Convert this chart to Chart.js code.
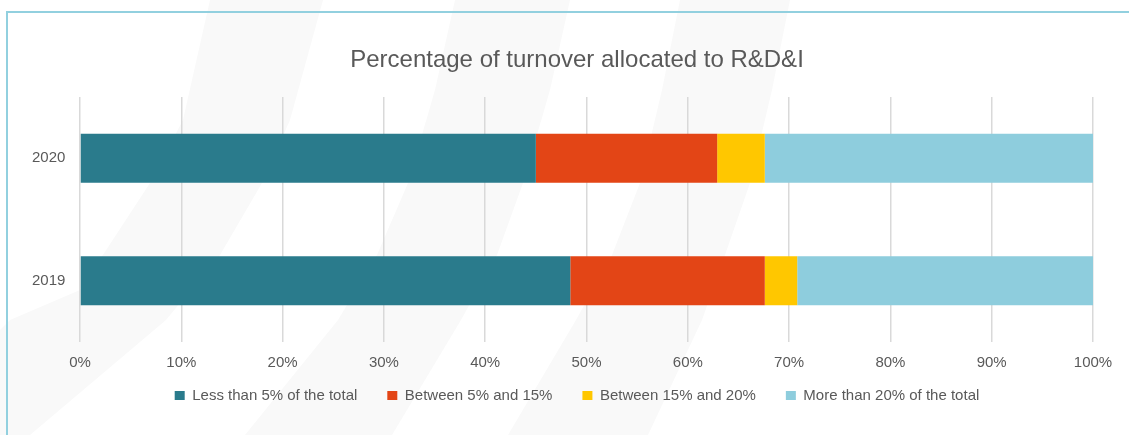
<!DOCTYPE html>
<html>
<head>
<meta charset="utf-8">
<script src="https://cdn.jsdelivr.net/npm/chart.js@4/dist/chart.umd.min.js"></script>
<style>
  html, body { margin: 0; padding: 0; background: #ffffff; }
  #wrap { position: relative; width: 1129px; height: 435px; overflow: hidden; }
  #frame { position: absolute; left: 6px; top: 11px; right: -10px; bottom: -10px;
           border-top: 2px solid #92D0DF; border-left: 2px solid #92D0DF; pointer-events: none; }
  canvas { position: absolute; left: 0; top: 0; }
</style>
</head>
<body>
<div id="wrap">
  <canvas id="c" width="1129" height="435"></canvas>
  <div id="frame"></div>
</div>
<script>
// ---- data ----
const years = ['2020', '2019'];
const lessThan5 = [45.0, 48.4];
const between5and15 = [17.9, 19.2];
const between15and20 = [4.7, 3.2];
const moreThan20 = [32.4, 29.2];
const seriesNames = ['Less than 5% of the total', 'Between 5% and 15%', 'Between 15% and 20%', 'More than 20% of the total'];
const seriesColors = ['#2A7B8C', '#E34516', '#FFC700', '#8ECDDD'];
const xTickValues = [0, 10, 20, 30, 40, 50, 60, 70, 80, 90, 100];
const titleText = 'Percentage of turnover allocated to R&D&I';

const TEXT = '#595959';
Chart.defaults.font.family = '"Liberation Sans", Arial, sans-serif';
Chart.defaults.color = TEXT;

// decorative faint background bands
const bgBands = {
  id: 'bgBands',
  beforeDraw(chart) {
    const ctx = chart.ctx;
    const bands = [
      [[210,0],[183,120],[150,183],[80,290],[10,320],[0,330],[0,435],[30,435],[166,320],[220,255],[262,183],[290,120],[323,0]],
      [[455,0],[435,90],[408,183],[377,255],[338,320],[245,435],[392,435],[461,320],[497,255],[523,183],[550,90],[570,0]],
      [[680,0],[662,90],[640,183],[612,255],[576,320],[508,435],[648,435],[702,320],[725,255],[750,183],[772,90],[790,0]]
    ];
    ctx.save();
    ctx.fillStyle = '#f9f9f9';
    bands.forEach(pts => {
      ctx.beginPath();
      ctx.moveTo(pts[0][0], pts[0][1]);
      for (let i = 1; i < pts.length; i++) ctx.lineTo(pts[i][0], pts[i][1]);
      ctx.closePath();
      ctx.fill();
    });
    ctx.restore();
  }
};

// pull the legend a little closer to the axis labels
const legendShift = {
  id: 'legendShift',
  afterLayout(chart) {
    const lg = chart.legend;
    if (lg) { lg.top -= 16; lg.bottom -= 16; }
  }
};

const valueSets = [lessThan5, between5and15, between15and20, moreThan20];

new Chart(document.getElementById('c'), {
  type: 'bar',
  data: {
    labels: years,
    datasets: valueSets.map((vals, i) => ({
      label: seriesNames[i],
      data: vals,
      backgroundColor: seriesColors[i],
      borderWidth: 0,
      barPercentage: 0.4,
      categoryPercentage: 1.0
    }))
  },
  options: {
    indexAxis: 'y',
    responsive: false,
    animation: false,
    devicePixelRatio: 1,
    layout: { padding: { left: 61, right: 36, top: 14, bottom: 6 } },
    plugins: {
      title: {
        display: true,
        text: titleText,
        color: TEXT,
        font: { size: 24, weight: 'normal' },
        padding: { top: 32.3, bottom: 21.9 }
      },
      legend: {
        position: 'bottom',
        labels: {
          boxWidth: 10,
          boxHeight: 9,
          padding: 30,
          color: TEXT,
          font: { size: 15 }
        }
      },
      tooltip: { enabled: false }
    },
    scales: {
      x: {
        stacked: true,
        min: 0,
        max: 100,
        afterBuildTicks: s => { s.ticks = xTickValues.map(v => ({ value: v })); },
        afterFit: s => { s.height = 32; },
        grid: { color: '#d9d9d9', lineWidth: 1.5, drawTicks: false },
        border: { display: false },
        ticks: { padding: 12, color: TEXT, font: { size: 15 }, callback: v => v + '%' }
      },
      y: {
        stacked: true,
        afterFit: s => { s.width = 19; },
        grid: { display: false, drawTicks: false },
        border: { display: false },
        ticks: { mirror: true, crossAlign: 'near', padding: -48, color: TEXT, font: { size: 15 } }
      }
    }
  },
  plugins: [bgBands, legendShift]
});
</script>
</body>
</html>
